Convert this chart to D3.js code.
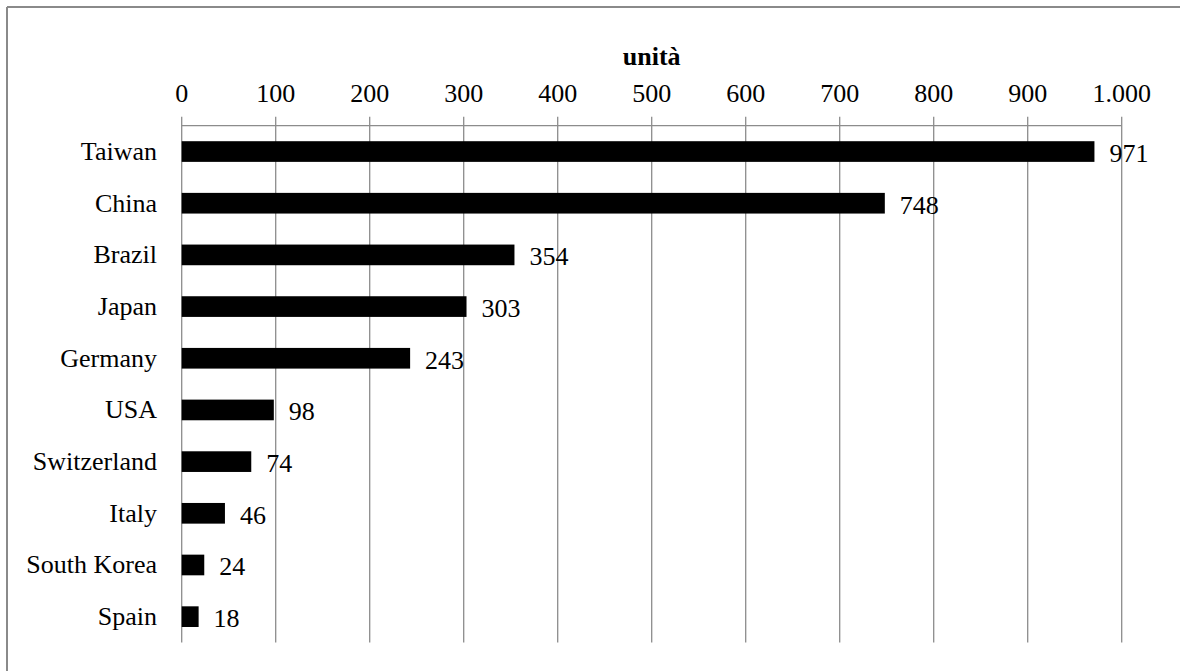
<!DOCTYPE html>
<html>
<head>
<meta charset="utf-8">
<script src="https://cdn.jsdelivr.net/npm/d3@7"></script>
<style>
  html, body { margin: 0; padding: 0; background: #fff; }
  svg { display: block; }
  text { font-family: "Liberation Serif", "Times New Roman", serif; fill: #000; }
</style>
</head>
<body>
<svg id="chart" width="1180" height="671"></svg>
<script>
// Units per country
const countries = ["Taiwan", "China", "Brazil", "Japan", "Germany", "USA", "Switzerland", "Italy", "South Korea", "Spain"];
const units = [971, 748, 354, 303, 243, 98, 74, 46, 24, 18];
const tickValues = [0, 100, 200, 300, 400, 500, 600, 700, 800, 900, 1000];
const axisTitle = "unità";

const svg = d3.select("#chart");
const W = 1180, H = 671;

// Frame: only top and left edges visible
svg.append("line").attr("x1", 7).attr("x2", W).attr("y1", 7).attr("y2", 7)
  .attr("stroke", "#8a8a8a").attr("stroke-width", 2);
svg.append("line").attr("x1", 7).attr("x2", 7).attr("y1", 7).attr("y2", H)
  .attr("stroke", "#8a8a8a").attr("stroke-width", 2);

const plot = { left: 181.7, right: 1121.7, top: 125.7, bottom: 642.5 };

const x = d3.scaleLinear().domain([0, 1000]).range([plot.left, plot.right]);
const y = d3.scaleBand().domain(countries).range([plot.top, plot.bottom])
  .paddingInner(0.6).paddingOuter(0.3);

const fmt = v => d3.format(",")(v).replace(/,/g, ".");

// Vertical gridlines
svg.append("g").selectAll("line").data(tickValues).join("line")
  .attr("x1", d => x(d)).attr("x2", d => x(d))
  .attr("y1", plot.top - 9).attr("y2", plot.bottom)
  .attr("stroke", "#8c8c8c").attr("stroke-width", 1.3);

// Top axis line
svg.append("line").attr("x1", plot.left).attr("x2", plot.right)
  .attr("y1", plot.top).attr("y2", plot.top)
  .attr("stroke", "#8c8c8c").attr("stroke-width", 1.3);

// Tick labels
svg.append("g").selectAll("text").data(tickValues).join("text")
  .attr("x", d => x(d)).attr("y", 102)
  .attr("text-anchor", "middle")
  .attr("font-size", 26)
  .text(d => fmt(d));

// Axis title
svg.append("text")
  .attr("x", (plot.left + plot.right) / 2).attr("y", 65)
  .attr("text-anchor", "middle")
  .attr("font-size", 26).attr("font-weight", "bold")
  .text(axisTitle);

const data = countries.map((c, i) => ({ c, v: units[i] }));

// Bars
svg.append("g").selectAll("rect").data(data).join("rect")
  .attr("x", x(0)).attr("y", d => y(d.c))
  .attr("width", d => x(d.v) - x(0))
  .attr("height", y.bandwidth())
  .attr("fill", "#000");

// Category labels
svg.append("g").selectAll("text").data(data).join("text")
  .attr("x", 157).attr("y", d => y(d.c) + y.bandwidth() / 2)
  .attr("dy", "0.32em")
  .attr("text-anchor", "end")
  .attr("font-size", 26)
  .text(d => d.c);

// Value labels
svg.append("g").selectAll("text").data(data).join("text")
  .attr("x", d => x(d.v) + 15).attr("y", d => y(d.c) + y.bandwidth() / 2)
  .attr("dy", "0.4em")
  .attr("font-size", 26)
  .text(d => fmt(d.v));
</script>
</body>
</html>
